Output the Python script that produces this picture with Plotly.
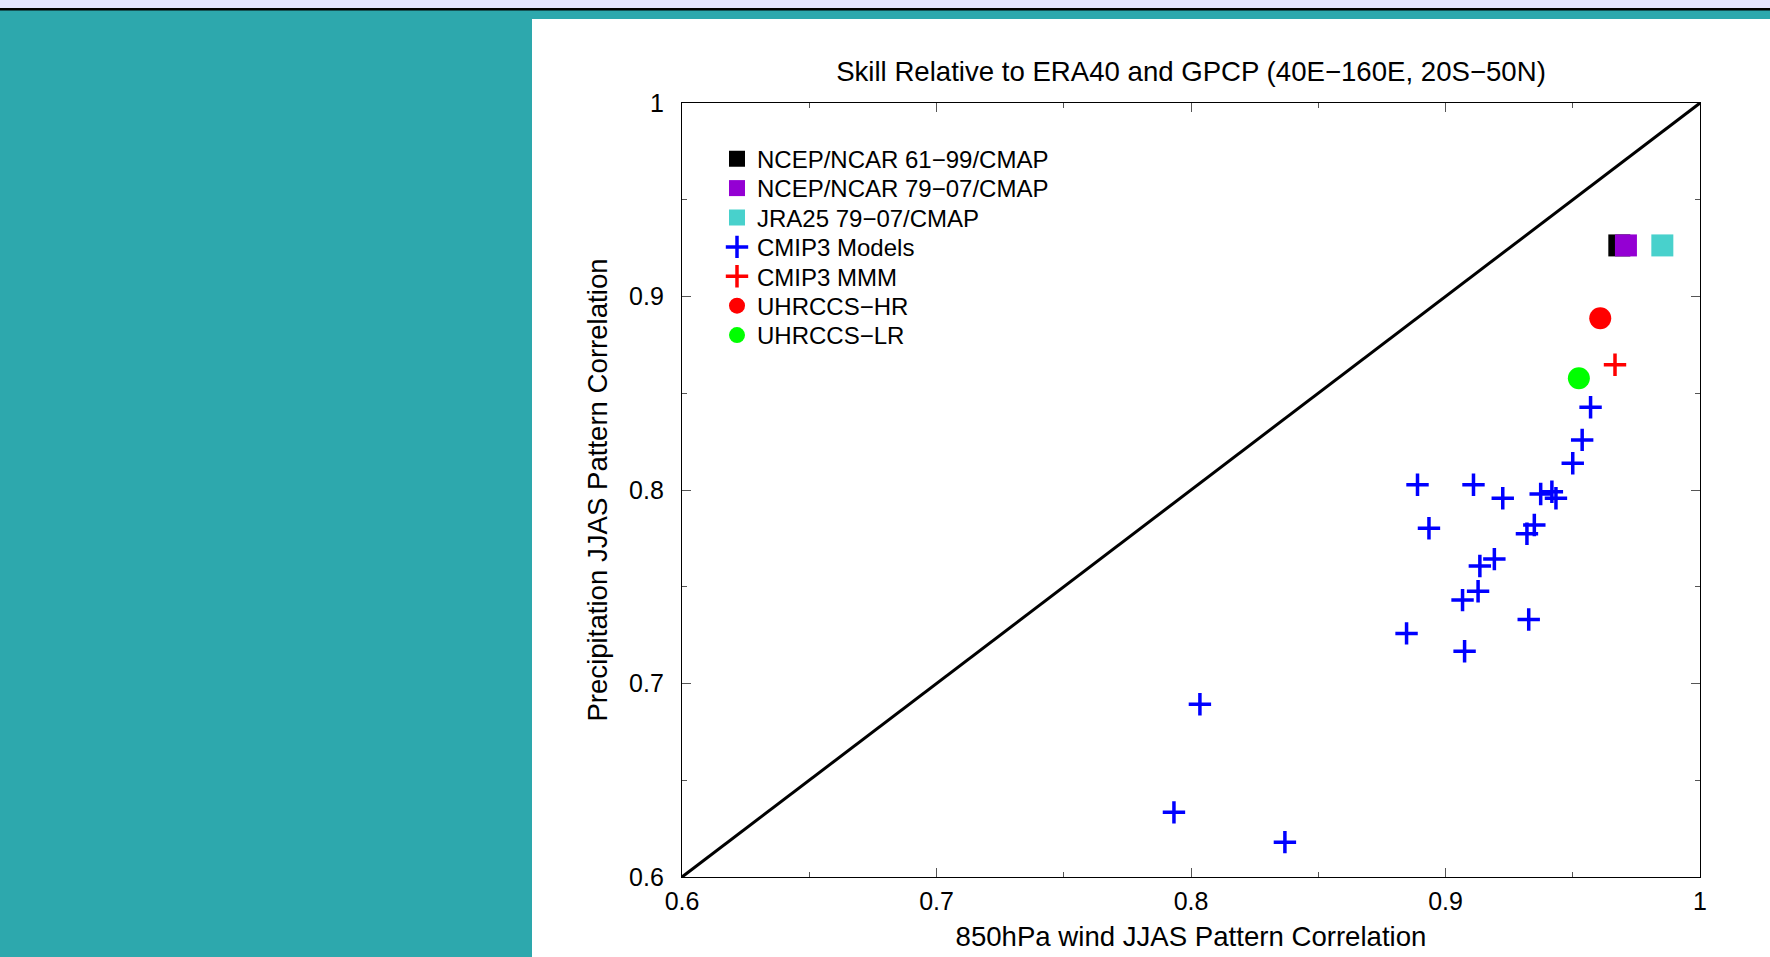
import plotly.graph_objects as go

# ---- data ----
models_x = [0.889, 0.911, 0.9225, 0.8935, 0.9374, 0.9418, 0.9434, 0.9349, 0.932,
            0.9135, 0.9192, 0.9067, 0.9128, 0.8847, 0.9075, 0.9327, 0.8035, 0.7933,
            0.8369, 0.950, 0.9537, 0.957]
models_y = [0.8027, 0.8027, 0.7957, 0.7802, 0.7979, 0.7991, 0.7957, 0.7819, 0.7774,
            0.7607, 0.7643, 0.7431, 0.7477, 0.7259, 0.7167, 0.7331, 0.6893, 0.6334,
            0.618, 0.8138, 0.8259, 0.8428]
mmm_x, mmm_y = [0.9666], [0.8647]
hr_x, hr_y = [0.9608], [0.8888]
lr_x, lr_y = [0.9524], [0.8578]
ncep61_x, ncep61_y = [0.9683], [0.9264]
ncep79_x, ncep79_y = [0.9709], [0.9264]
jra_x, jra_y = [0.9852], [0.9264]
diag = [0.6, 1.0]
tick_vals = [0.6, 0.7, 0.8, 0.9, 1.0]
tick_text = ["0.6", "0.7", "0.8", "0.9", "1"]
legend_names = ["NCEP/NCAR 61−99/CMAP", "NCEP/NCAR 79−07/CMAP", "JRA25 79−07/CMAP",
                "CMIP3 Models", "CMIP3 MMM", "UHRCCS−HR", "UHRCCS−LR"]

W, H = 1770, 957
ML, MR, MT, MB = 682, 70, 103, 80
PW, PH = W - ML - MR, H - MT - MB


def px(x):
    return (x - ML) / PW


def py(y):
    return (H - MB - y) / PH


FONT = "Liberation Sans, Arial, Helvetica, sans-serif"
LEG_ROW0, LEG_STEP, LEG_X = 158.0, 29.4, 717

legend_ids = ["legend"] + ["legend%d" % i for i in range(2, 8)]

fig = go.Figure()
fig.add_trace(go.Scatter(x=diag, y=diag, mode="lines", line=dict(color="black", width=3),
                         showlegend=False, hoverinfo="skip"))
specs = [
    (ncep61_x, ncep61_y, dict(symbol="square", size=22, color="black")),
    (ncep79_x, ncep79_y, dict(symbol="square", size=22, color="#9400D3")),
    (jra_x, jra_y, dict(symbol="square", size=22, color="#48D1CC")),
    (models_x, models_y, dict(symbol="cross-thin", size=16, color="blue",
                              line=dict(color="blue", width=3.5))),
    (mmm_x, mmm_y, dict(symbol="cross-thin", size=16, color="red",
                        line=dict(color="red", width=3.5))),
    (hr_x, hr_y, dict(symbol="circle", size=22, color="red")),
    (lr_x, lr_y, dict(symbol="circle", size=22, color="#00FF00")),
]
for i, (xs, ys, mk) in enumerate(specs):
    fig.add_trace(go.Scatter(x=xs, y=ys, mode="markers", name=legend_names[i],
                             marker=mk, legend=legend_ids[i], showlegend=True))

axis_common = dict(range=[0.6, 1.0], tickvals=tick_vals, ticktext=tick_text,
                   automargin=False,
                   ticks="inside", ticklen=9, tickwidth=1, tickcolor="#555555",
                   showline=True, linecolor="black", linewidth=1.3, mirror="allticks",
                   showgrid=False, zeroline=False,
                   tickfont=dict(family=FONT, size=25, color="black"),
                   minor=dict(ticks="inside", ticklen=5, tickwidth=1, tickcolor="#555555",
                              dtick=0.05, showgrid=False))

legend_common = dict(xanchor="left", yanchor="top", bgcolor="rgba(0,0,0,0)", borderwidth=0,
                     font=dict(family=FONT, size=24, color="black"), itemsizing="trace")
legends = {}
for i, lid in enumerate(legend_ids):
    legends[lid] = dict(legend_common, x=px(LEG_X), y=py(LEG_ROW0 + i * LEG_STEP - 21.4))

fig.update_layout(
    template="none",
    width=W, height=H,
    margin=dict(l=ML, r=MR, t=MT, b=MB, pad=0, autoexpand=False),
    paper_bgcolor="#2DA8AD", plot_bgcolor="white",
    font=dict(family=FONT, color="black"),
    title=dict(text="Skill Relative to ERA40 and GPCP (40E−160E, 20S−50N)",
               font=dict(family=FONT, size=27.6, color="black"),
               x=0.5, xref="paper", xanchor="center",
               y=1 - 71 / H, yref="container", yanchor="middle"),
    xaxis=dict(axis_common, title=dict(text="850hPa wind JJAS Pattern Correlation",
                                       font=dict(family=FONT, size=27.6), standoff=12),
               ticklabelstandoff=2),
    yaxis=dict(axis_common, title=dict(text="Precipitation JJAS Pattern Correlation",
                                       font=dict(family=FONT, size=27.6), standoff=13),
               ticklabelstandoff=12),
    showlegend=True,
    shapes=[
        dict(type="rect", xref="paper", yref="paper", layer="below",
             x0=px(532), x1=px(W + 50), y0=py(H + 50), y1=py(19),
             fillcolor="white", line=dict(width=0)),
        dict(type="rect", xref="paper", yref="paper", layer="below",
             x0=px(-50), x1=px(W + 50), y0=py(8), y1=py(-50),
             fillcolor="#E3E4FE", line=dict(width=0)),
        dict(type="rect", xref="paper", yref="paper", layer="below",
             x0=px(-50), x1=px(W + 50), y0=py(10.5), y1=py(8),
             fillcolor="black", line=dict(width=0)),
    ],
    **legends,
)

fig.write_html("out.html", config={"displayModeBar": False},
               post_script="document.body.style.margin='0';document.body.style.overflow='hidden';")
